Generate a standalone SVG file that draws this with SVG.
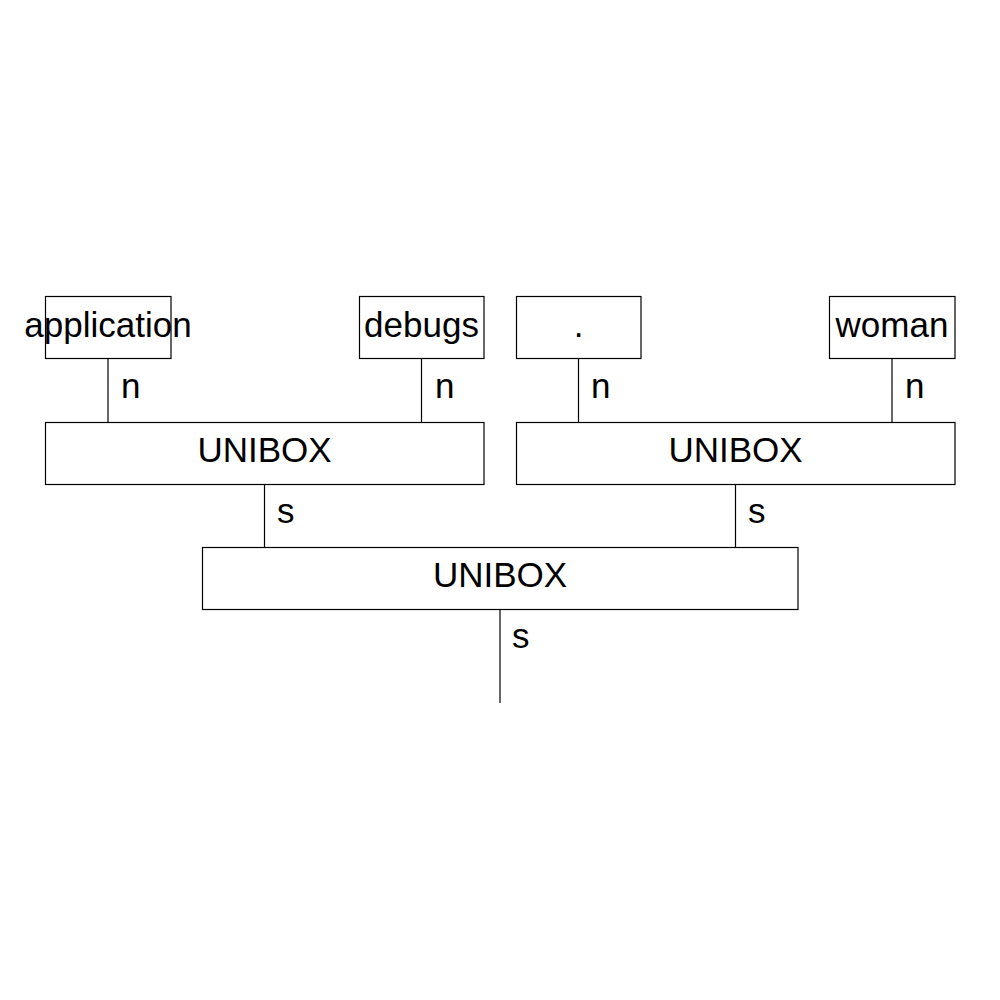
<svg xmlns="http://www.w3.org/2000/svg" width="1000" height="1000" viewBox="0 0 1000 1000">
  <style>
    .box { fill: #ffffff; stroke: #000000; stroke-width: 1.2; }
    .wire { stroke: #000000; stroke-width: 1.2; fill: none; }
    .label { font-family: "Liberation Sans", Arial, sans-serif; font-size: 35px; fill: #000000; }
    .mid { text-anchor: middle; }
  </style>
  <rect width="1000" height="1000" fill="#ffffff"/>

  <!-- connectors between nodes, with their port letters -->
  <g id="connectors">
    <line class="wire" x1="108" y1="358" x2="108" y2="422"/>
    <text class="label" x="121" y="398">n</text>
    <line class="wire" x1="421.5" y1="358" x2="421.5" y2="422"/>
    <text class="label" x="435" y="398">n</text>
    <line class="wire" x1="578.5" y1="358" x2="578.5" y2="422"/>
    <text class="label" x="591" y="398">n</text>
    <line class="wire" x1="892" y1="358" x2="892" y2="422"/>
    <text class="label" x="905" y="398">n</text>

    <line class="wire" x1="264.5" y1="484" x2="264.5" y2="547"/>
    <text class="label" x="277" y="523">s</text>
    <line class="wire" x1="735.5" y1="484" x2="735.5" y2="547"/>
    <text class="label" x="748" y="523">s</text>

    <line class="wire" x1="500" y1="609" x2="500" y2="703"/>
    <text class="label" x="512" y="648">s</text>
  </g>

  <!-- leaf nodes -->
  <g id="node-application">
    <rect class="box" x="45.5" y="296.5" width="125.5" height="62"/>
    <text class="label mid" x="108" y="337">application</text>
  </g>
  <g id="node-debugs">
    <rect class="box" x="359.5" y="296.5" width="124.5" height="62"/>
    <text class="label mid" x="421.5" y="337">debugs</text>
  </g>
  <g id="node-period">
    <rect class="box" x="516.5" y="296.5" width="124.5" height="62"/>
    <text class="label mid" x="578.5" y="337">.</text>
  </g>
  <g id="node-woman">
    <rect class="box" x="829.5" y="296.5" width="125.5" height="62"/>
    <text class="label mid" x="892" y="337">woman</text>
  </g>

  <!-- combining nodes -->
  <g id="node-unibox-left">
    <rect class="box" x="45.5" y="422.5" width="438.5" height="62"/>
    <text class="label mid" x="264.5" y="462">UNIBOX</text>
  </g>
  <g id="node-unibox-right">
    <rect class="box" x="516.5" y="422.5" width="438.5" height="62"/>
    <text class="label mid" x="735.5" y="462">UNIBOX</text>
  </g>
  <g id="node-unibox-root">
    <rect class="box" x="202.5" y="547.5" width="595.5" height="62"/>
    <text class="label mid" x="500" y="587">UNIBOX</text>
  </g>
</svg>
